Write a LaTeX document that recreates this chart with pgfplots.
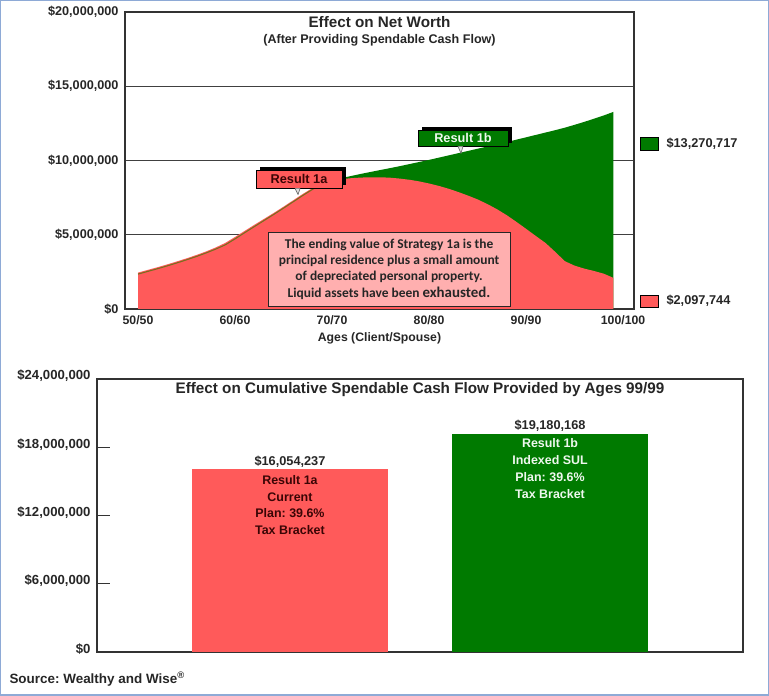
\documentclass[border=0pt]{standalone}
\usepackage{pgfplots}
\pgfplotsset{compat=1.18}
\usepackage{pgfplotstable}
\usepackage{fontspec}
\setmainfont{Liberation Sans}
\newfontfamily\carlito{Carlito}
\usetikzlibrary{shadows}
\definecolor{nred}{HTML}{FF5A5A}
\definecolor{ngreen}{HTML}{007A00}
\definecolor{npink}{HTML}{FFAFAF}
\definecolor{nolive}{HTML}{7A6E1E}
\definecolor{nborder}{HTML}{8EAAD6}
\definecolor{ntext}{HTML}{262626}
\definecolor{nmaroon}{HTML}{3A0505}
\definecolor{nwhite}{HTML}{EEF8EE}

% Net worth in $ millions, by age; a = Strategy 1a, b = Strategy 1b
\pgfplotstableread{
age a b
50 2.45 2.35
51 2.63 2.53
52 2.81 2.71
53 3.00 2.90
54 3.20 3.10
55 3.41 3.31
56 3.63 3.53
57 3.87 3.77
58 4.14 4.03
59 4.45 4.32
60 4.85 4.72
61 5.26 5.14
62 5.67 5.55
63 6.07 5.96
64 6.47 6.37
65 6.89 6.79
66 7.32 7.22
67 7.75 7.65
68 8.15 8.06
69 8.45 8.40
70 8.63 8.64
71 8.74 8.82
72 8.81 8.96
73 8.85 9.10
74 8.87 9.23
75 8.87 9.36
76 8.84 9.49
77 8.78 9.62
78 8.70 9.76
79 8.59 9.90
80 8.45 10.04
81 8.29 10.19
82 8.10 10.34
83 7.88 10.49
84 7.64 10.64
85 7.38 10.79
86 7.07 10.94
87 6.72 11.09
88 6.32 11.24
89 5.87 11.40
90 5.40 11.56
91 4.92 11.72
92 4.45 11.88
93 3.85 12.04
94 3.22 12.21
95 2.92 12.40
96 2.72 12.60
97 2.56 12.81
98 2.38 13.03
99 2.097744 13.270717
}\networth

\begin{document}
\frenchspacing
\begin{tikzpicture}[x=1bp,y=1bp]
\path[use as bounding box] (0,0) rectangle (769,696);

% ---------------- Top chart ----------------
\begin{axis}[
  at={(125bp,387bp)}, anchor=south west,
  scale only axis, width=509bp, height=297bp,
  xmin=48.66, xmax=101.13, ymin=0, ymax=20,
  axis line style={draw=black!80, line width=1.1bp},
  xtick={50,60,70,80,90,100},
  xticklabels={50/50,60/60,70/70,80/80,90/90,100/100},
  ytick={0,5,10,15,20},
  yticklabels={{\$0},{\$5,000,000},{\$10,000,000},{\$15,000,000},{\$20,000,000}},
  major tick length=0pt,
  ymajorgrids, grid style={black!75, line width=0.9bp},
  tick label style={font=\bfseries\fontsize{12.7}{14}\selectfont, text=ntext},
  yticklabel style={xshift=-3bp},
  xticklabel style={yshift=-3bp, font=\bfseries\fontsize{12.3}{14}\selectfont},
  xlabel={Ages (Client/Spouse)},
  xlabel style={at={(axis description cs:0.5,0)}, anchor=center, yshift=-29bp,
    font=\bfseries\fontsize{12.3}{14}\selectfont, text=ntext},
  clip=false,
]
\addplot[fill=ngreen, draw=none] table[x=age, y=b] {\networth} \closedcycle;
\addplot[fill=nred, draw=none] table[x=age, y=a] {\networth} \closedcycle;
\addplot[nolive, line width=1.1bp, restrict x to domain=50:70] table[x=age, y=b] {\networth};

\node[font=\bfseries\fontsize{15.3}{18}\selectfont, text=ntext, yshift=-10bp] at (rel axis cs:0.5,1) {Effect on Net Worth};
\node[font=\bfseries\fontsize{12.6}{15}\selectfont, text=ntext, yshift=-28bp] at (rel axis cs:0.5,1) {(After Providing Spendable Cash Flow)};

% callouts
\node[draw=black, line width=0.8bp, fill=nred, minimum width=86bp, minimum height=18bp, inner sep=0,
  general shadow={fill=black, shadow xshift=4bp, shadow yshift=3bp},
  font=\bfseries\fontsize{12.8}{14}\selectfont, text=nmaroon] (c1) at (axis cs:66.6,8.75) {Result 1a};
\draw[black!60, fill=black!12, line width=0.6bp] ([xshift=-4bp]c1.south) -- ([xshift=-1bp, yshift=-6bp]c1.south) -- ([xshift=1bp]c1.south);
\node[draw=black, line width=0.8bp, fill=ngreen, minimum width=90bp, minimum height=16bp, inner sep=0,
  general shadow={fill=black, shadow xshift=4bp, shadow yshift=3bp},
  font=\bfseries\fontsize{12.8}{14}\selectfont, text=nwhite] (c2) at (axis cs:83.5,11.52) {Result 1b};
\draw[black!60, fill=black!12, line width=0.6bp] ([xshift=-5bp]c2.south) -- ([xshift=-2bp, yshift=-7bp]c2.south) -- ([xshift=0bp]c2.south);

% note box
\node[draw=black!85, fill=npink, line width=1bp, minimum width=242bp, minimum height=74bp,
  align=center, font=\carlito\bfseries\fontsize{13.5}{16.5}\selectfont, text=ntext]
  at (axis cs:75.88,2.69) {The ending value of Strategy 1a is the\\principal residence plus a small amount\\of depreciated personal property.\\Liquid assets have been {\fontsize{15}{16.5}\selectfont exhausted.}};
\end{axis}

% side legend of the top chart
\draw[black, fill=ngreen, line width=0.8bp] (640,546) rectangle (658,559);
\node[anchor=west, font=\bfseries\fontsize{12.8}{14}\selectfont, text=ntext] at (663,552.5) {\$13,270,717};
\draw[black, fill=nred, line width=0.8bp] (640,389) rectangle (658,401);
\node[anchor=west, font=\bfseries\fontsize{12.8}{14}\selectfont, text=ntext] at (663,395) {\$2,097,744};

% ---------------- Bottom chart ----------------
\begin{axis}[
  at={(97bp,44bp)}, anchor=south west,
  scale only axis, width=646bp, height=273bp,
  xmin=-0.742, xmax=1.742, ymin=0, ymax=24,
  xtick=\empty,
  ytick={0,6,12,18,24},
  yticklabels={{\$0},{\$6,000,000},{\$12,000,000},{\$18,000,000},{\$24,000,000}},
  ytick pos=left, tick align=inside, major tick length=13bp,
  tick style={black!80, line width=1bp},
  axis line style={draw=black!80, line width=1.1bp},
  tick label style={font=\bfseries\fontsize{13.2}{15}\selectfont, text=ntext},
  yticklabel style={xshift=-3bp, yshift=3bp},
  ybar, bar width=196bp, clip=false,
]
\addplot[fill=nred, draw=none, bar shift=0pt] coordinates {(0,16.054237)};
\addplot[fill=ngreen, draw=none, bar shift=0pt] coordinates {(1,19.180168)};

\node[font=\bfseries\fontsize{15.3}{18}\selectfont, text=ntext, yshift=-11bp] at (rel axis cs:0.5,1) {Effect on Cumulative Spendable Cash Flow Provided by Ages 99/99};

\node[anchor=south, inner sep=0, yshift=2bp, font=\bfseries\fontsize{12.8}{14}\selectfont, text=ntext] at (axis cs:0,16.054237) {\$16,054,237};
\node[anchor=north, inner sep=0, yshift=-5.5bp, align=center, font=\bfseries\fontsize{12.5}{17}\selectfont, text=nmaroon] at (axis cs:0,16.054237) {Result 1a\\Current\\Plan: 39.6\%\\Tax Bracket};
\node[anchor=south, inner sep=0, yshift=2bp, font=\bfseries\fontsize{12.8}{14}\selectfont, text=ntext] at (axis cs:1,19.180168) {\$19,180,168};
\node[anchor=north, inner sep=0, yshift=-4.5bp, align=center, font=\bfseries\fontsize{12.5}{17}\selectfont, text=nwhite] at (axis cs:1,19.180168) {Result 1b\\Indexed SUL\\Plan: 39.6\%\\Tax Bracket};
\end{axis}

\node[anchor=west, font=\bfseries\fontsize{13.5}{16}\selectfont, text=ntext] at (6,17) {Source: Wealthy and Wise\textsuperscript{®}};

\draw[nborder, line width=1.5bp] (0.75,0.75) rectangle (768.25,695.25);
\end{tikzpicture}
\end{document}
